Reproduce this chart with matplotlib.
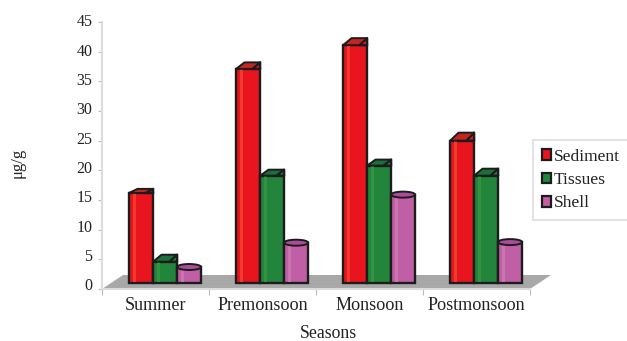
import numpy as np
import matplotlib
matplotlib.use("Agg")
import matplotlib.pyplot as plt
from matplotlib.patches import Polygon, Ellipse, Patch
from matplotlib.transforms import ScaledTranslation

categories = ["Summer", "Premonsoon", "Monsoon", "Postmonsoon"]
sediment = [16.2, 37.1, 41.1, 25.0]
tissues = [4.6, 19.1, 20.8, 19.1]
shell = [3.2, 7.3, 15.4, 7.4]
yticks = [0, 5, 10, 15, 20, 25, 30, 35, 40, 45]

plt.rcParams['font.family'] = ['Liberation Serif', 'DejaVu Serif']
W, H = 627, 341
fig = plt.figure(figsize=(W/100, H/100), dpi=100)
L, R, T, B = 102, 530, 22, 289
ax = fig.add_axes([L/W, 1-B/H, (R-L)/W, (B-T)/H])
ax.set_xlim(0, 4); ax.set_ylim(0, 45)
px = 4/(R-L); py = 45/(B-T)

GREY = '#dcdcdc'
for s in ['top', 'right']:
    ax.spines[s].set_visible(False)
for s in ['left', 'bottom']:
    ax.spines[s].set_color(GREY); ax.spines[s].set_linewidth(1.5)
ax.set_xticks(range(5)); ax.set_xticklabels([])
ax.set_yticks(yticks)
ax.tick_params(axis='y', length=3, color='#bbbbbb', labelsize=11.5, pad=4, labelcolor='#222222')
ax.tick_params(axis='x', length=4, color='#bbbbbb')
for lab, t in zip(ax.get_yticklabels(), yticks):
    lab.set_transform(lab.get_transform() + ScaledTranslation(0, (1.5 + 3*(45-t)/45)/100, fig.dpi_scale_trans))
for i, c in enumerate(categories):
    ax.text(i+0.5, -2.75, c, ha='center', va='center', fontsize=13.1, color='#222222')

# grey floor
ax.add_patch(Polygon([(0, 0), (21*px, 14*py), (4+21*px, 14*py), (4, 0)],
                     closed=True, fc='#a8a8a8', ec='none', clip_on=False, zorder=1))

series = [(sediment, '#e8141e', '#f03a2c', '#c4261f', 'box', [4, 6.5, 7, 8]),
          (tissues, '#23853b', '#309540', '#1a6f3a', 'box', [7, 6, 6, 7]),
          (shell, '#c05ea6', '#cc74ae', '#aa4c9a', 'round', [6, 6, 6, 6])]
w = 24*px
base = 1.0
group_shift = 0.09
edge = '#1c1c1c'
LW = 1.7
for j, (vals, col, light, dark, kind, caps) in enumerate(series):
    for i, v in enumerate(vals):
        x = i + 0.5 + group_shift + (j-1)*w
        z = 3 + j*0.1
        x0, x1 = x-w/2, x+w/2
        dy = caps[i]*py
        if kind == 'box':
            d = 8*px
            ax.bar(x, v-base, w, bottom=base, color=col, ec=edge, lw=LW, zorder=z, clip_on=False)
            ax.bar(x-0.28*w, v-base-0.15, 0.1*w, bottom=base+0.1, color=light, ec='none', zorder=z+.01)
            ax.add_patch(Polygon([(x1-d, v), (x1, v+dy), (x1, v)], closed=True, fc=col, ec=edge,
                                 lw=LW, zorder=z+.015, clip_on=False, joinstyle='round'))
            ax.add_patch(Polygon([(x0, v), (x0+0.35*w, v+dy), (x1, v+dy), (x1-d, v)], closed=True,
                                 fc=dark, ec=edge, lw=1.4, zorder=z+.02, clip_on=False, joinstyle='round'))
        else:
            top = v + dy/2
            ax.bar(x, top-base, w, bottom=base, color=col, ec=edge, lw=LW, zorder=z, clip_on=False)
            ax.bar(x-0.28*w, top-base-0.15, 0.1*w, bottom=base+0.1, color=light, ec='none', zorder=z+.01)
            ax.add_patch(Ellipse((x, top), w, dy, fc=dark, ec=edge, lw=1.4, zorder=z+.02, clip_on=False))

fig.text(328/W, 1-334/H, "Seasons", ha='center', va='center', fontsize=12.8, color='#222222')
fig.text(18/W, 1-163/H, "\u03bcg/g", rotation=90, ha='center', va='center', fontsize=12, color='#222222')

handles = [Patch(fc=s[1], ec=edge, lw=1.6) for s in series]
leg = fig.legend(handles, ["Sediment", "Tissues", "Shell"], loc='upper left',
                 bbox_to_anchor=(533/W, 1-140/H), borderaxespad=0, fontsize=12.6,
                 fancybox=False, edgecolor='#dddddd', framealpha=1,
                 handlelength=0.55, handleheight=0.55, handletextpad=0.15, labelspacing=0.42,
                 borderpad=0.5, labelcolor='#222222')
leg.get_frame().set_linewidth(1.2)
fig.savefig("out.png", dpi=100)
